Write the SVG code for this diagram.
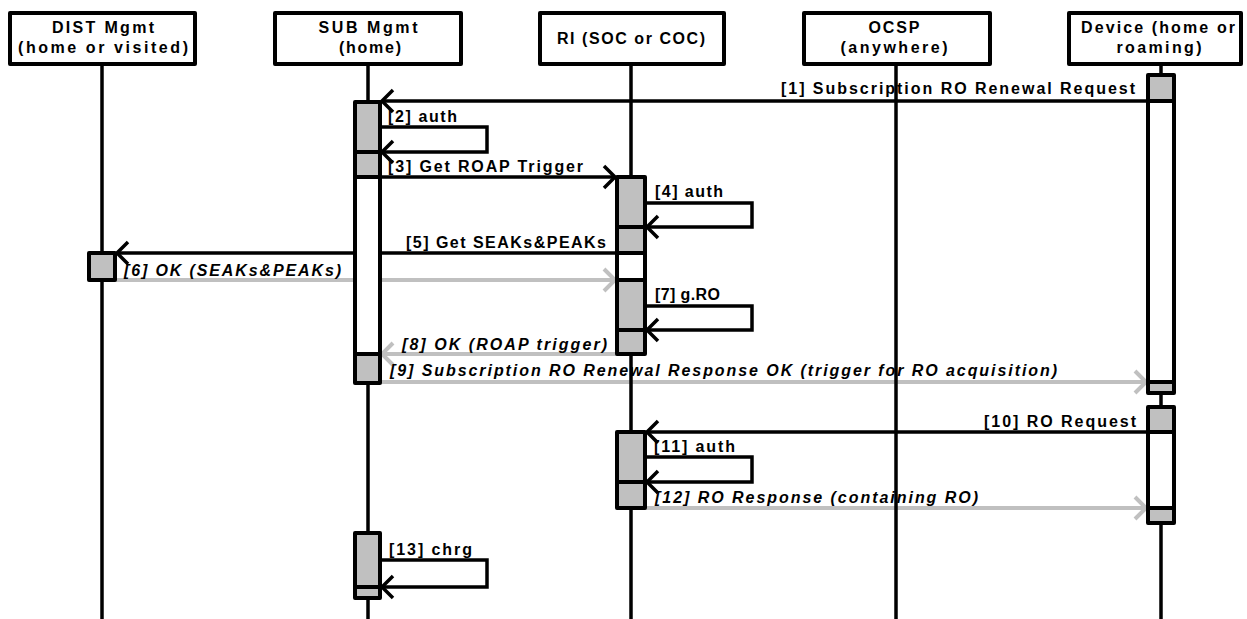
<svg xmlns="http://www.w3.org/2000/svg" width="1247" height="619" viewBox="0 0 1247 619">
<style>
.hdr{fill:#fff;stroke:#000;stroke-width:4;stroke-linejoin:round}
.life{stroke:#000;stroke-width:3.5}
.g{fill:#c0c0c0;stroke:#000;stroke-width:4;stroke-linejoin:round}
.w{fill:#fff;stroke:#000;stroke-width:4;stroke-linejoin:round}
.msg{fill:none;stroke:#000;stroke-width:3.5}
.resp{fill:none;stroke:#c0c0c0;stroke-width:4}
text{font-family:"Liberation Sans",Arial,sans-serif;font-weight:bold;font-size:16px;fill:#000}
.hd{text-anchor:middle}
.it{font-style:italic}
</style>
<defs>
<marker id="ah" markerUnits="userSpaceOnUse" markerWidth="30" markerHeight="30" viewBox="-15 -15 30 30" refX="0" refY="0" orient="auto">
<path d="M-11,-11 L0,0 L-11,11" fill="none" stroke="#000" stroke-width="3.5"/>
</marker>
<marker id="ahg" markerUnits="userSpaceOnUse" markerWidth="30" markerHeight="30" viewBox="-15 -15 30 30" refX="0" refY="0" orient="auto">
<path d="M-11,-11 L0,0 L-11,11" fill="none" stroke="#c0c0c0" stroke-width="4"/>
</marker>
</defs>

<g id="connectors">
<path class="msg" d="M1148,101 H382" marker-end="url(#ah)"/>
<text x="781" y="94" textLength="354" lengthAdjust="spacing">[1] Subscription RO Renewal Request</text>
<path class="msg" d="M380,127 H487 V152 H382" marker-end="url(#ah)"/>
<text x="388" y="122" textLength="69" lengthAdjust="spacing">[2] auth</text>
<path class="msg" d="M380,177 H615" marker-end="url(#ah)"/>
<text x="388" y="172" textLength="195" lengthAdjust="spacing">[3] Get ROAP Trigger</text>
<path class="msg" d="M645,203 H752 V227 H647" marker-end="url(#ah)"/>
<text x="655" y="197" textLength="68" lengthAdjust="spacing">[4] auth</text>
<path class="msg" d="M617,253 H117" marker-end="url(#ah)"/>
<text x="406" y="248" textLength="200" lengthAdjust="spacing">[5] Get SEAKs&amp;PEAKs</text>
<path class="resp" d="M115,280 H615" marker-end="url(#ahg)"/>
<text class="it" x="124" y="276" textLength="217" lengthAdjust="spacing">[6] OK (SEAKs&amp;PEAKs)</text>
<path class="msg" d="M645,306 H752 V330 H647" marker-end="url(#ah)"/>
<text x="655" y="300" textLength="65" lengthAdjust="spacing">[7] g.RO</text>
<path class="resp" d="M617,354 H382" marker-end="url(#ahg)"/>
<text class="it" x="402" y="350" textLength="205" lengthAdjust="spacing">[8] OK (ROAP trigger)</text>
<path class="resp" d="M380,382 H1146" marker-end="url(#ahg)"/>
<text class="it" x="390" y="376" textLength="667" lengthAdjust="spacing">[9] Subscription RO Renewal Response OK (trigger for RO acquisition)</text>
<path class="msg" d="M1148,432 H647" marker-end="url(#ah)"/>
<text x="984" y="427" textLength="152" lengthAdjust="spacing">[10] RO Request</text>
<path class="msg" d="M645,457 H752 V482 H647" marker-end="url(#ah)"/>
<text x="654" y="452" textLength="81" lengthAdjust="spacing">[11] auth</text>
<path class="resp" d="M645,508 H1146" marker-end="url(#ahg)"/>
<text class="it" x="655" y="503" textLength="323" lengthAdjust="spacing">[12] RO Response (containing RO)</text>
<path class="msg" d="M380,560 H487 V587 H382" marker-end="url(#ah)"/>
<text x="389" y="555" textLength="83" lengthAdjust="spacing">[13] chrg</text>
</g>

<g id="dist">
<line class="life" x1="102" y1="64" x2="102" y2="619"/>
<rect class="hdr" x="10" y="13" width="185" height="51"/>
<text class="hd" x="103" y="33" textLength="102" lengthAdjust="spacing">DIST Mgmt</text>
<text class="hd" x="103" y="53" textLength="170" lengthAdjust="spacing">(home or visited)</text>
<rect class="g" x="89" y="253" width="26" height="27"/>
</g>

<g id="sub">
<line class="life" x1="368" y1="64" x2="368" y2="619"/>
<rect class="hdr" x="275" y="13" width="186" height="51"/>
<text class="hd" x="368" y="33" textLength="99" lengthAdjust="spacing">SUB Mgmt</text>
<text class="hd" x="370" y="53" textLength="62" lengthAdjust="spacing">(home)</text>
<rect class="g" x="355" y="102" width="25" height="50"/>
<rect class="g" x="355" y="152" width="25" height="25"/>
<rect class="w" x="355" y="177" width="25" height="177"/>
<rect class="g" x="355" y="354" width="25" height="29"/>
<rect class="g" x="355" y="533" width="25" height="54"/>
<rect class="g" x="355" y="587" width="25" height="11"/>
</g>

<g id="ri">
<line class="life" x1="631" y1="64" x2="631" y2="619"/>
<rect class="hdr" x="540" y="13" width="184" height="51"/>
<text class="hd" x="631" y="44" textLength="148" lengthAdjust="spacing">RI (SOC or COC)</text>
<rect class="g" x="617" y="177" width="28" height="50"/>
<rect class="g" x="617" y="227" width="28" height="26"/>
<rect class="w" x="617" y="253" width="28" height="27"/>
<rect class="g" x="617" y="280" width="28" height="50"/>
<rect class="g" x="617" y="330" width="28" height="24"/>
<rect class="g" x="617" y="432" width="28" height="50"/>
<rect class="g" x="617" y="482" width="28" height="26"/>
</g>

<g id="ocsp">
<line class="life" x1="896" y1="64" x2="896" y2="619"/>
<rect class="hdr" x="804" y="13" width="186" height="51"/>
<text class="hd" x="894" y="33" textLength="51" lengthAdjust="spacing">OCSP</text>
<text class="hd" x="894" y="53" textLength="107" lengthAdjust="spacing">(anywhere)</text>
</g>

<g id="device">
<line class="life" x1="1161" y1="64" x2="1161" y2="619"/>
<rect class="hdr" x="1069" y="13" width="172" height="51"/>
<text class="hd" x="1158" y="33" textLength="154" lengthAdjust="spacing">Device (home or</text>
<text class="hd" x="1159" y="53" textLength="85" lengthAdjust="spacing">roaming)</text>
<rect class="g" x="1148" y="75" width="26" height="26"/>
<rect class="w" x="1148" y="101" width="26" height="281"/>
<rect class="g" x="1148" y="382" width="26" height="11"/>
<rect class="g" x="1148" y="407" width="26" height="25"/>
<rect class="w" x="1148" y="432" width="26" height="76"/>
<rect class="g" x="1148" y="508" width="26" height="15"/>
</g>
</svg>
